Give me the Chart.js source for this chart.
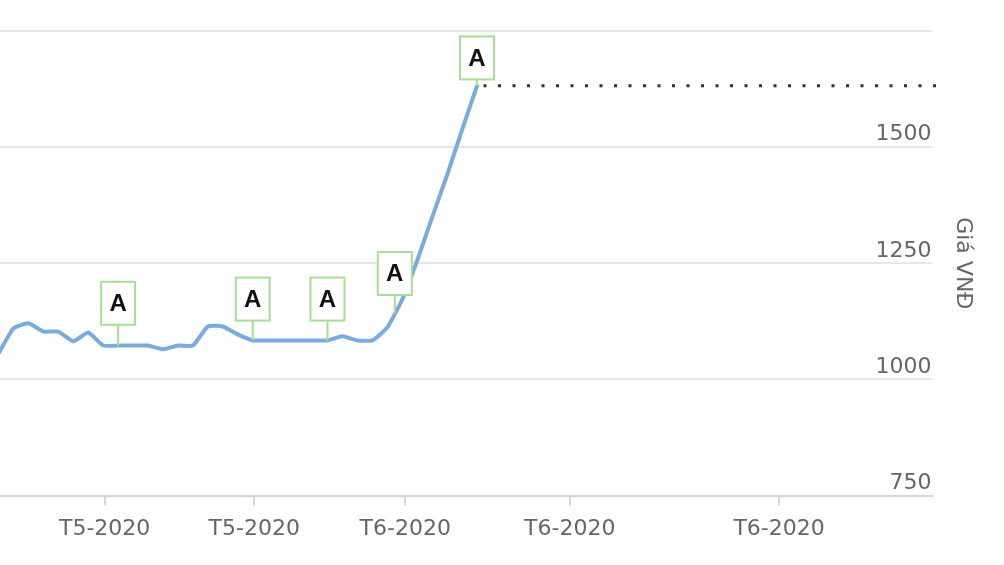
<!DOCTYPE html>
<html lang="vi">
<head>
  <meta charset="UTF-8" />
  <title>Giá VNĐ</title>
  <script src="https://cdn.jsdelivr.net/npm/chart.js"></script>
  <style>
    html, body { margin: 0; padding: 0; background: #fff; }
    #wrap { width: 1004px; height: 565px; }
  </style>
</head>
<body>
  <div id="wrap"><canvas id="priceChart" width="1004" height="565"></canvas></div>

  <script>
    // phiên giao dịch (chỉ số ngày) và giá
    const days = [0, 1, 2, 3, 4, 5, 6, 7, 8, 9, 10, 11, 12, 13, 14, 15, 16,
                  17, 18, 19, 20, 21, 22, 23, 24, 25, 26, 27, 28, 29, 30, 31, 32];
    const prices = [1056, 1110, 1121, 1103, 1103, 1082, 1101, 1073, 1073, 1073, 1073,
                    1065, 1073, 1073, 1114, 1114, 1097, 1084, 1084, 1084, 1084, 1084,
                    1084, 1093, 1084, 1084, 1112, 1172, 1256, 1349, 1440, 1537, 1632];

    // cờ sự kiện
    const flagDays = [8, 17, 22, 26.5, 32];
    const flagLevels = [1164, 1173, 1173, 1228, 1692];
    const flagTexts = ['A', 'A', 'A', 'A', 'A'];

    // trục
    const xTicks = [7.1, 17.1, 27.2, 38.2, 52.2];
    const xTickLabels = ['T5-2020', 'T5-2020', 'T6-2020', 'T6-2020', 'T6-2020'];
    const yTicks = [750, 1000, 1250, 1500, 1750];
    const xMin = 0.1, xMax = 62.4;

    const FONT = '"DejaVu Sans", "Open Sans", sans-serif';

    function priceAt(d) {
      const i = Math.floor(d);
      if (i >= prices.length - 1) return prices[prices.length - 1];
      const t = d - i;
      return prices[i] + (prices[i + 1] - prices[i]) * t;
    }

    const flagPlugin = {
      id: 'flags',
      afterDatasetsDraw(chart) {
        const ctx = chart.ctx;
        const xs = chart.scales.x, ys = chart.scales.y;
        const w = 34, h = 43;
        ctx.save();
        flagDays.forEach((d, i) => {
          const px = xs.getPixelForValue(d);
          const cy = ys.getPixelForValue(flagLevels[i]);
          const py = ys.getPixelForValue(priceAt(d));
          ctx.strokeStyle = '#a6de93';
          ctx.lineWidth = 2;
          // chân cờ
          ctx.beginPath();
          ctx.moveTo(px, cy + h / 2);
          ctx.lineTo(px, py);
          ctx.stroke();
          // hộp
          ctx.fillStyle = '#ffffff';
          ctx.fillRect(px - w / 2, cy - h / 2, w, h);
          ctx.strokeRect(px - w / 2, cy - h / 2, w, h);
          ctx.fillStyle = '#111';
          ctx.font = 'bold 24px "Liberation Sans", Arial, sans-serif';
          ctx.textAlign = 'center';
          ctx.textBaseline = 'middle';
          ctx.fillText(flagTexts[i], px, cy + 1);
        });
        ctx.restore();
      }
    };

    const lastPrice = prices[prices.length - 1];
    const lastDay = days[days.length - 1];

    new Chart(document.getElementById('priceChart').getContext('2d'), {
      type: 'line',
      data: {
        datasets: [
          {
            label: 'Giá',
            data: days.map((d, i) => ({ x: d, y: prices[i] })),
            borderColor: '#78abdf',
            borderWidth: 4,
            pointRadius: 0,
            tension: 0.15,
            borderJoinStyle: 'round',
            borderCapStyle: 'round'
          },
          {
            label: 'last',
            data: [{ x: lastDay, y: lastPrice }, { x: xMax + 0.3, y: lastPrice }],
            borderColor: '#333',
            borderWidth: 3,
            borderDash: [3, 11.5],
            borderDashOffset: 8,
            pointRadius: 0,
            clip: false
          }
        ]
      },
      options: {
        responsive: false,
        animation: false,
        layout: { padding: { top: 31, right: 24, bottom: 13, left: 0 } },
        plugins: { legend: { display: false }, tooltip: { enabled: false } },
        scales: {
          x: {
            type: 'linear',
            min: xMin,
            max: xMax,
            afterBuildTicks: (scale) => { scale.ticks = xTicks.map(v => ({ value: v })); },
            border: { display: true, color: '#ccd6eb', width: 2 },
            grid: { drawOnChartArea: false, drawTicks: true, tickLength: 10, color: '#ccd6eb', lineWidth: 2 },
            ticks: {
              padding: 10,
              maxRotation: 0,
              autoSkip: false,
              color: '#666',
              font: { family: FONT, size: 22 },
              callback: (v, i) => xTickLabels[i]
            }
          },
          y: {
            position: 'right',
            min: 750,
            max: 1750,
            afterBuildTicks: (scale) => { scale.ticks = yTicks.map(v => ({ value: v })); },
            border: { display: false },
            grid: { color: '#e6e6e6', lineWidth: 2, drawTicks: false },
            ticks: {
              mirror: true,
              padding: 0,
              labelOffset: -12.5,
              color: '#666',
              font: { family: FONT, size: 22 },
              callback: (v) => (v === 1750 ? '' : String(v))
            },
            title: {
              display: true,
              text: 'Giá VNĐ',
              color: '#666',
              font: { family: FONT, size: 22 },
              padding: { top: 4, bottom: 18 }
            }
          }
        }
      },
      plugins: [flagPlugin]
    });
  </script>
</body>
</html>
